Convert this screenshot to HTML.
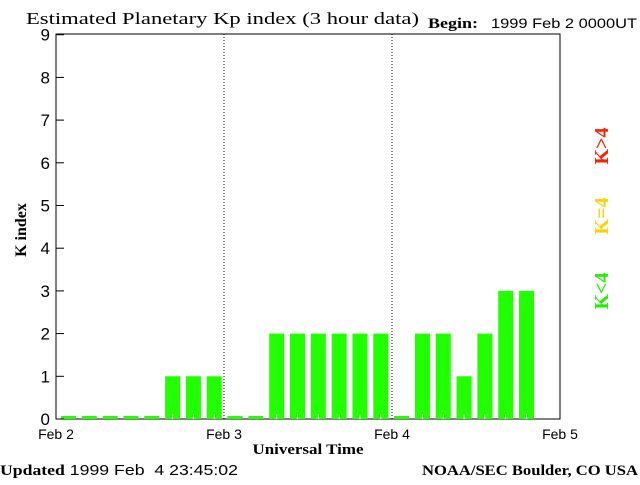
<!DOCTYPE html>
<html><head><meta charset="utf-8"><style>
body{margin:0;background:#fff;width:640px;height:480px;overflow:hidden}
text{font-family:"Liberation Sans",sans-serif;fill:#000}
.serif{font-family:"Liberation Serif",serif}
</style></head><body>
<svg id="c" width="640" height="480" xmlns="http://www.w3.org/2000/svg">
<text class="serif" x="26" y="24" font-size="17" textLength="393" lengthAdjust="spacingAndGlyphs">Estimated Planetary Kp index (3 hour data)</text>
<text class="serif" x="428" y="28" font-size="15" font-weight="bold" textLength="50" lengthAdjust="spacingAndGlyphs">Begin:</text>
<text x="491" y="28" font-size="14" textLength="146" lengthAdjust="spacingAndGlyphs">1999 Feb 2 0000UT</text>
<rect x="56" y="34" width="504" height="385" fill="none" stroke="#000"/>
<g id="bars"></g>
<g id="axes"></g>
<text class="serif" x="26" y="230" font-size="16" font-weight="bold" transform="rotate(-90 26 230)" text-anchor="middle">K index</text>
<text class="serif" x="308" y="454" font-size="15" font-weight="bold" text-anchor="middle" textLength="111" lengthAdjust="spacingAndGlyphs">Universal Time</text>
<text x="0" y="475" font-size="15" textLength="238" lengthAdjust="spacingAndGlyphs"><tspan font-weight="bold" style="font-family:'Liberation Serif',serif">Updated</tspan> 1999 Feb&#160;&#160;4 23:45:02</text>
<text class="serif" x="638" y="475" font-size="15" font-weight="bold" text-anchor="end" textLength="216" lengthAdjust="spacingAndGlyphs">NOAA/SEC Boulder, CO USA</text>
<text class="serif" x="608" y="291" font-size="20" font-weight="bold" style="fill:#22ee00" transform="rotate(-90 608 291)" text-anchor="middle">K&lt;4</text>
<text class="serif" x="608" y="216" font-size="20" font-weight="bold" style="fill:#ffd000" transform="rotate(-90 608 216)" text-anchor="middle">K=4</text>
<text class="serif" x="608" y="146" font-size="20" font-weight="bold" style="fill:#ff2000" transform="rotate(-90 608 146)" text-anchor="middle">K&gt;4</text>
</svg>
<script>
const kpValues=[0,0,0,0,0,1,1,1, 0,0,2,2,2,2,2,2, 0,2,2,1,2,3,3];
const yTicks=[0,1,2,3,4,5,6,7,8,9];
const dayLabels=["Feb 2","Feb 3","Feb 4","Feb 5"];
const NS="http://www.w3.org/2000/svg";
const X0=56,X1=560,Y0=419,YSTEP=42.7,BARP=20.82;
const sx=i=>X0+i*(X1-X0)/24;
const bx=i=>X0+5+i*BARP;
const sy=v=>Y0-v*YSTEP;
function mk(tag,attrs,parent){const e=document.createElementNS(NS,tag);for(const k in attrs)e.setAttribute(k,attrs[k]);parent.appendChild(e);return e;}
const bars=document.getElementById('bars'),axes=document.getElementById('axes');
kpValues.forEach((v,i)=>{
  const top=v>0?sy(v):Y0-3;
  const c=v<4?'#22ff00':(v==4?'#ffd000':'#ff2000');
  const r=mk('rect',{x:bx(i),y:top,width:15,height:Y0-top,fill:c},bars);
  
  
  if(v>0){const t=mk('line',{x1:bx(i)+7.5,x2:bx(i)+7.5,y1:Y0-5,y2:Y0,stroke:'#fff'},bars);
  
  }
});
yTicks.forEach(t=>{
  const y=sy(t);
  const l=mk('line',{x1:X0,x2:X0+8,y1:y,y2:y,stroke:'#000'},axes);
  
  
  const tx=mk('text',{x:50,y:y+6,'font-size':17,'text-anchor':'end'},axes);
  tx.textContent=t;
  
  
});
dayLabels.forEach((d,i)=>{
  const x=sx(i*8);
  if(i>0&&i<3){const l=mk('line',{x1:x,x2:x,y1:34,y2:Y0,stroke:'#000','stroke-dasharray':'1,2'},axes);
  
  }
  const tx=mk('text',{x:x,y:439,'font-size':14,'text-anchor':'middle'},axes);
  tx.textContent=d;
  
  
});
</script>
</body></html>
